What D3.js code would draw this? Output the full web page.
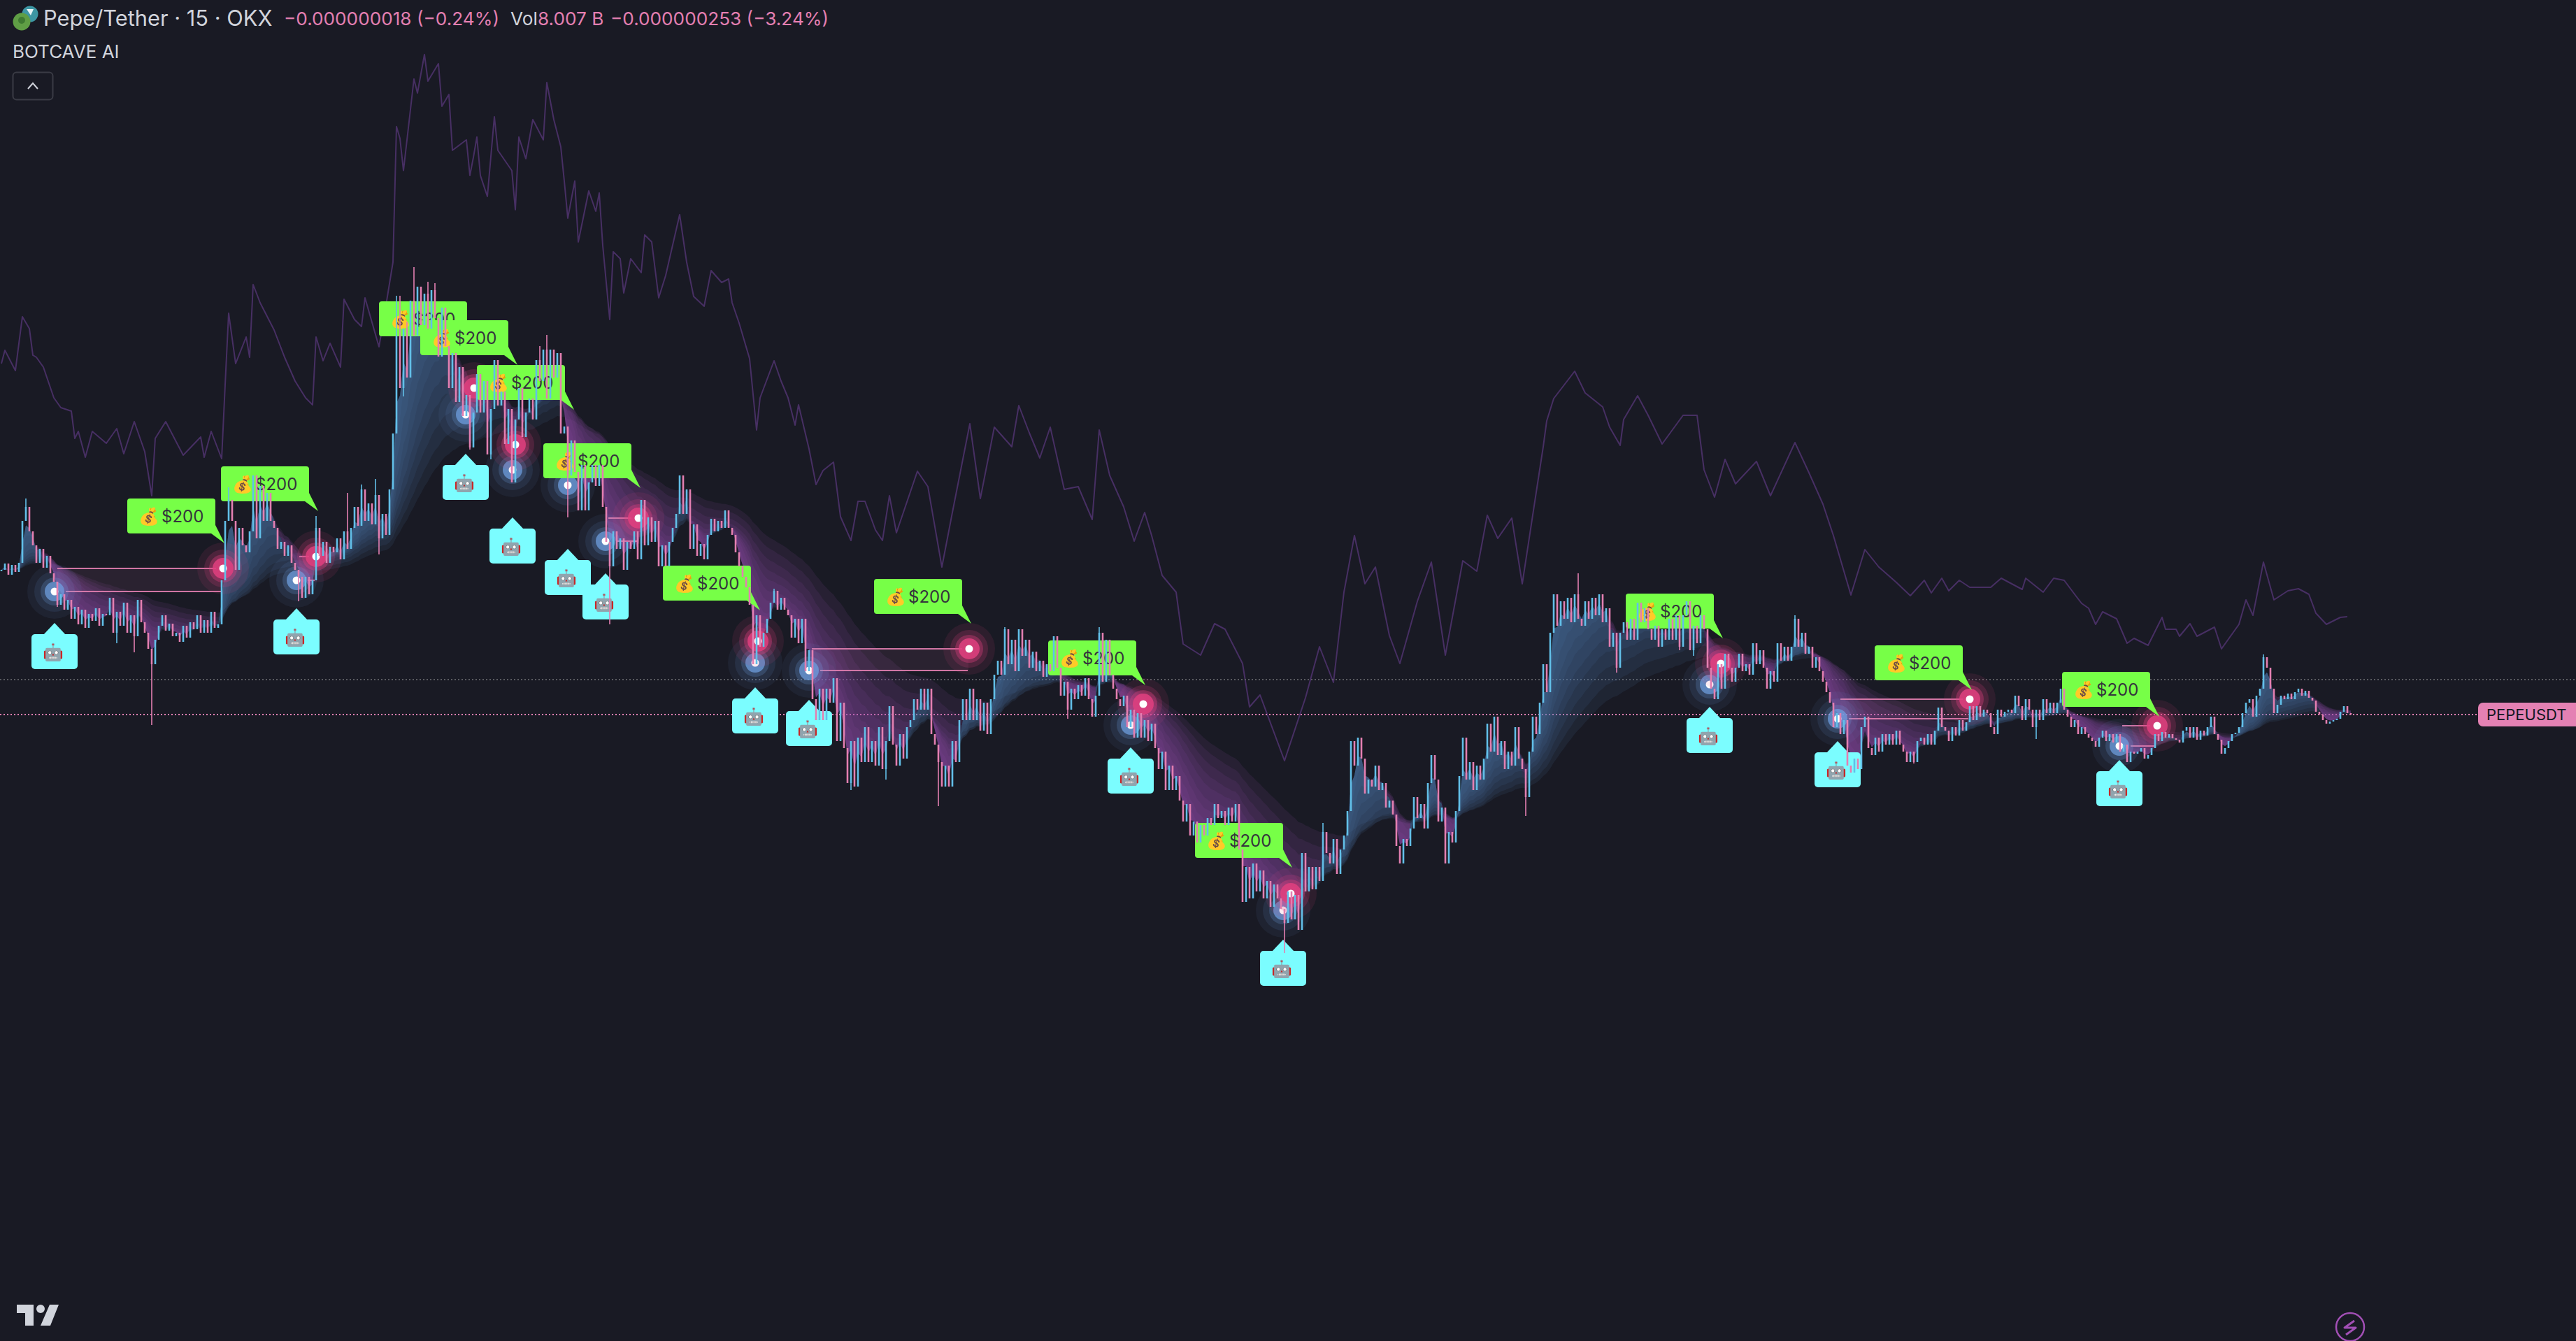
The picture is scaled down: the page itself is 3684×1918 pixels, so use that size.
<!DOCTYPE html>
<html><head><meta charset="utf-8"><title>Pepe/Tether</title>
<script src="https://cdnjs.cloudflare.com/ajax/libs/d3/7.8.5/d3.min.js"></script>
<style>html,body{margin:0;padding:0;background:#191a24;overflow:hidden}svg{display:block}text{font-family:Inter,"Noto Sans",sans-serif}</style>
</head><body><svg id="c" width="3684" height="1918"></svg>
<script>
// Prices are expressed as an index: one bar every 5 minutes of chart.
const closes=[
1185,1194,1178,1192,1182,1195,1255,1275,1240,1220,
1195,1215,1188,1205,1180,1168,1135,1150,1128,1142,
1115,1132,1107,1128,1102,1122,1112,1130,1105,1122,
1120,1145,1095,1125,1105,1138,1095,1120,1090,1142,
1110,1095,1072,1050,1085,1105,1120,1098,1108,1090,
1095,1082,1105,1088,1110,1100,1120,1095,1113,1095,
1125,1102,1107,1170,1255,1285,1255,1185,1245,1220,
1210,1240,1320,1230,1305,1255,1295,1255,1245,1215,
1225,1205,1220,1195,1185,1175,1145,1175,1150,1170,
1245,1205,1225,1195,1218,1210,1230,1200,1240,1215,
1245,1275,1248,1300,1255,1280,1250,1292,1230,1265,
1235,1300,1380,1520,1445,1530,1460,1570,1520,1590,
1535,1580,1530,1585,1545,1490,1560,1505,1445,1495,
1425,1475,1405,1435,1360,1410,1465,1410,1455,1350,
1415,1485,1420,1440,1365,1415,1310,1400,1445,1375,
1410,1430,1400,1485,1455,1500,1430,1500,1460,1495,
1380,1390,1320,1370,1325,1270,1335,1270,1310,1335,
1305,1335,1275,1225,1190,1240,1215,1230,1185,1225,
1215,1240,1200,1285,1220,1260,1225,1255,1190,1220,
1190,1225,1245,1265,1320,1265,1300,1215,1250,1205,
1222,1200,1235,1258,1240,1255,1245,1270,1245,1235,
1210,1190,1175,1160,1135,1050,1120,1075,1095,1115,
1138,1155,1128,1145,1128,1120,1088,1115,1080,1115,
1040,1070,1000,970,1015,970,1015,995,1030,940,
995,930,880,940,875,945,910,960,910,940,
905,960,900,940,990,935,905,950,915,960,
970,1000,985,1015,985,1015,950,935,910,875,
905,875,940,910,970,1000,970,1015,970,1000,
955,995,950,1000,1035,1055,1035,1100,1050,1085,
1040,1100,1062,1085,1045,1068,1040,1055,1032,1050,
1040,1090,1045,1005,1025,985,1015,1000,1020,1005,
1030,1000,975,1005,1095,1025,1085,1035,1015,1000,
990,1005,960,985,945,980,945,970,940,965,
930,900,925,870,905,870,890,855,825,850,
805,825,795,820,805,830,820,850,830,840,
820,845,825,850,785,710,760,715,765,725,
755,715,740,703,735,715,700,680,725,685,
720,670,780,725,760,728,760,740,810,780,
765,800,750,785,805,840,940,905,945,915,
865,885,875,905,870,880,845,855,835,790,
765,800,790,815,860,830,850,815,880,920,
885,825,845,765,810,795,840,890,945,885,
910,870,905,885,915,965,925,975,920,940,
900,925,905,960,915,900,860,925,975,950,
995,1050,1010,1095,1150,1105,1140,1115,1145,1110,
1150,1115,1105,1140,1115,1145,1120,1150,1110,1130,
1075,1095,1045,1095,1110,1085,1115,1085,1138,1110,
1130,1100,1085,1105,1075,1100,1085,1115,1085,1120,
1075,1120,1140,1070,1105,1080,1120,1100,1045,1015,
1000,1050,1015,1065,1045,1025,1045,1065,1040,1050,
1035,1080,1050,1070,1045,1015,1040,1025,1080,1055,
1075,1055,1075,1115,1075,1095,1065,1075,1045,1060,
1040,1025,1010,995,960,980,950,970,905,895,
915,900,960,975,930,920,945,925,950,935,
950,935,955,935,925,910,925,910,940,945,
935,950,935,955,988,960,955,940,960,948,
970,955,967,990,970,990,975,985,980,960,
950,985,975,982,985,980,1005,990,970,1000,
985,960,985,970,1000,980,995,980,995,1015,
985,975,960,970,950,960,950,945,940,932,
945,955,940,950,938,950,925,935,910,925,
922,925,930,915,920,930,950,940,953,945,
950,944,942,938,955,960,945,960,942,955,
948,960,975,950,942,922,930,940,950,952,
960,980,995,1000,975,1005,1015,1060,1045,1015,
980,992,1005,1000,1008,1000,1010,1015,1005,1012,
1002,998,982,978,970,965,968,970,972,982,990,980,978];
const wickBars=[7,16,43,85,90,113,114,116,118,122,124,154,156,162,174,268,305,367,436,451,462,513,582,647,65,221,243,253,287,314,378,115,134,140,33,38,99,103,107,108,484,480,547,571,633];
const wickTips=[1287,1132,963,1140,1262,1577,1577,1540,1618,1597,1595,1505,1521,1260,1107,847,972,637,833,1180,1038,1120,943,1064,1303,1158,870,885,1103,1103,823,1433,1357,1343,1080,1067,1295,1307,1315,1207,1062,1070,908,953,973];
const compareBars=[0,1,4,6,8,9,10,12,15,17,20,21,22,24,26,30,33,35,38,41,43,44,47,50,52,57,58,60,63,64,65,67,70,71,72,74,78,81,84,87,89,90,92,94,97,98,101,103,104,108,109,112,113,114,115,118,119,121,122,125,126,128,129,133,134,135,136,137,139,141,142,146,147,148,150,152,155,156,158,160,161,162,164,165,168,170,171,172,174,175,177,178,180,183,184,186,188,190,194,196,198,201,203,206,208,209,211,214,216,217,221,223,225,227,228,231,233,235,238,240,243,245,247,250,252,254,256,262,265,269,272,277,280,284,289,291,294,297,300,304,308,312,314,317,321,324,327,329,332,336,338,343,347,350,355,357,360,367,373,377,381,384,387,390,393,397,400,405,409,413,418,422,425,428,432,435,439,441,442,444,450,453,458,460,463,464,468,471,475,481,485,487,490,493,496,502,506,513,517,521,524,529,533,537,542,546,550,552,555,557,560,563,569,572,578,579,584,587,590,593,595,597,599,601,605,608,610,614,618,619,622,623,626,628,633,635,640,642,644,647,650,654,657,660,662,665,669,671];
const compareValues=[1480,1499,1470,1547,1530,1492,1489,1475,1431,1417,1412,1373,1383,1346,1383,1366,1387,1351,1397,1354,1291,1373,1397,1368,1349,1375,1346,1383,1344,1450,1552,1480,1518,1489,1593,1567,1528,1489,1455,1431,1421,1518,1484,1509,1475,1572,1543,1533,1574,1504,1533,1625,1819,1802,1756,1887,1867,1922,1884,1909,1848,1865,1785,1800,1749,1775,1804,1749,1719,1833,1785,1756,1700,1804,1773,1829,1800,1882,1829,1790,1741,1688,1741,1654,1727,1698,1724,1649,1543,1640,1630,1581,1630,1610,1664,1654,1574,1606,1693,1625,1576,1562,1613,1596,1601,1567,1538,1487,1385,1431,1484,1455,1431,1392,1421,1358,1307,1327,1339,1261,1227,1283,1283,1242,1227,1291,1238,1326,1304,1189,1267,1394,1287,1389,1361,1420,1381,1345,1389,1300,1304,1257,1385,1320,1275,1226,1267,1234,1177,1153,1079,1063,1108,1100,1051,989,1006,912,1002,1075,1024,1153,1234,1165,1189,1091,1051,1140,1196,1063,1198,1183,1263,1230,1259,1165,1296,1361,1398,1430,1469,1438,1418,1389,1363,1400,1434,1406,1365,1406,1406,1328,1289,1343,1308,1340,1291,1367,1324,1279,1234,1149,1214,1189,1167,1148,1170,1152,1173,1155,1170,1160,1160,1173,1157,1173,1153,1173,1170,1150,1137,1130,1107,1125,1115,1080,1087,1077,1117,1100,1100,1090,1108,1090,1103,1072,1107,1142,1120,1196,1142,1155,1158,1150,1123,1107,1117,1118];
const lastPrice=978, refLevel=1028;
const buyBars=[15.2,84.4,132.8,146.2,162,172.8,215.6,231,323,366.6,488.6,525.2,605.8];
const buyPrices=[1154,1170,1407,1328,1306,1226,1052,1041,963,698,1021,972,933];
const buyLabelPrices=[1109,1130,1351,1260,1215,1180,1017,999,931,656,989,940,913];
const sellBars=[63.4,90,135.2,147,182.2,216.4,276.8,326.6,368.8,491.8,563,616.6];
const sellPrices=[1187,1204,1445,1364,1259,1083,1072,993,722,1051,1000,962];
const sellLabelBars=[63.8,90.6,135.8,147.6,163.8,182.8,217,277.4,327.2,369.2,492.4,563.6,617.2];
const sellLabelPrices=[1223,1269,1505,1478,1414,1302,1127,1108,1020,759,1087,1013,975];
const tradeBuy=[0,1,5,7,11,12];
const tradeSell=[0,1,4,6,10,11];
const ribbonLengths=[5,8,12,16,22,28,36,46,58];

const W=3684,H=1918,BG="#191a24",BLUE="#62bfe8",PINK="#e37fb1";
const svg=d3.select("#c");
svg.append("rect").attr("width",W).attr("height",H).attr("fill",BG);
const x=d3.scaleLinear().domain([0,closes.length-1]).range([2,3362]);
const y=d3.scaleLinear().domain([82,2000]).range([1918,0]);

// comparison line
svg.append("path").datum(compareBars.map((b,i)=>[b,compareValues[i]]))
  .attr("fill","none").attr("stroke","#472f63").attr("stroke-width",2).attr("stroke-linejoin","round")
  .attr("d",d3.line().x(d=>x(d[0])).y(d=>y(d[1])));

// reference lines
[[refLevel,"#5a5b61",W],[lastPrice,PINK,3544]].forEach(([v,c,end])=>{
  svg.append("line").attr("x1",0).attr("x2",end).attr("y1",y(v)).attr("y2",y(v))
    .attr("stroke",c).attr("stroke-width",2).attr("stroke-dasharray","2 3");
});

// ribbon of moving averages
function ema(src,n){const k=2/(n+1);let out=[],p=src[0];src.forEach(v=>{p=p+k*(v-p);out.push(p)});return out}
const fast=ema(closes,3);
const ribbon=svg.append("g");
const area=d3.area().x(d=>x(d.i)).y0(d=>y(d.a)).y1(d=>y(d.b));
ribbonLengths.slice().reverse().forEach(n=>{
  const slow=ema(closes,n);
  let run=[],sign=0;
  const flush=()=>{ if(run.length>1) ribbon.append("path").datum(run)
      .attr("fill",sign>0?"rgb(83,124,178)":"rgb(151,78,180)").attr("fill-opacity",0.115).attr("d",area); };
  fast.forEach((f,i)=>{
    const s=f>=slow[i]?1:-1, pt={i,a:f,b:slow[i]};
    if(s!==sign){ flush(); run=run.length?[run[run.length-1],pt]:[pt]; sign=s; } else run.push(pt);
  });
  flush();
});

// trade boxes
const boxes=svg.append("g");
tradeBuy.forEach((b,i)=>{
  const bx=x(buyBars[b]),by=y(buyPrices[b]),sx=x(sellBars[tradeSell[i]]),sy=y(sellPrices[tradeSell[i]]);
  boxes.append("rect").attr("x",bx+4).attr("width",sx-bx-5).attr("y",Math.min(by,sy)).attr("height",Math.abs(by-sy)).attr("fill",PINK).attr("fill-opacity",0.09);
  boxes.append("line").attr("x1",bx+4).attr("x2",sx-10).attr("y1",sy).attr("y2",sy).attr("stroke",PINK).attr("stroke-width",2.2).attr("stroke-opacity",.9);
  boxes.append("line").attr("x1",bx+16).attr("x2",sx-2).attr("y1",by).attr("y2",by).attr("stroke",PINK).attr("stroke-width",2.2).attr("stroke-opacity",.9);
});

// signal dots
function dots(bars,prices,col,rings){
  const g=svg.append("g");
  bars.forEach((b,i)=>{
    const cx=x(b),cy=y(prices[i]);
    rings.forEach(([r,o])=>g.append("circle").attr("cx",cx).attr("cy",cy).attr("r",r).attr("fill",col).attr("fill-opacity",o));
    g.append("circle").attr("cx",cx).attr("cy",cy).attr("r",5.5).attr("fill","#fff");
  });
}
dots(buyBars,buyPrices,"#6f9fe0",[[39,.07],[29,.11],[20,.22],[14,.72]]);
dots(sellBars,sellPrices,"#e0407f",[[37,.10],[27,.19],[20,.36],[15,.85]]);

// sell labels
const sellG=svg.append("g");
sellLabelBars.forEach((b,i)=>{
  const tx=x(b),ty=y(sellLabelPrices[i]),l=tx-139,t=ty-64;
  sellG.append("rect").attr("x",l).attr("y",t).attr("width",126).attr("height",50).attr("rx",4).attr("fill","#77ff47");
  sellG.append("path").attr("d",`M${l+126} ${t+38}L${tx} ${ty}L${l+120} ${t+50}Z`).attr("fill","#77ff47");
  sellG.append("text").attr("x",l+31).attr("y",t+34).attr("text-anchor","middle").attr("font-size",24).text("💰");
  sellG.append("text").attr("x",l+49).attr("y",t+34).attr("font-size",24).attr("fill","#34343c").text("$200");
});
// buy labels
const buyG=svg.append("g");
buyBars.forEach((b,i)=>{
  const tx=x(b),ty=y(buyLabelPrices[i]);
  buyG.append("rect").attr("x",tx-33).attr("y",ty+16).attr("width",66).attr("height",50).attr("rx",5).attr("fill","#7bfdff");
  buyG.append("path").attr("d",`M${tx-16} ${ty+17}L${tx} ${ty}L${tx+16} ${ty+17}Z`).attr("fill","#7bfdff");
  buyG.append("text").attr("x",tx-2).attr("y",ty+50).attr("text-anchor","middle").attr("font-size",24).text("🤖");
});

// candles
const candles=closes.map((c,i)=>{
  const o=i?closes[i-1]:c; let hi=Math.max(o,c),lo=Math.min(o,c);
  const w=wickBars.indexOf(i); if(w>=0){hi=Math.max(hi,wickTips[w]);lo=Math.min(lo,wickTips[w]);}
  return {i,o,c,hi,lo,up:c>=o};
});
const cg=svg.append("g");
cg.selectAll("line").data(candles).join("line")
  .attr("x1",d=>x(d.i)).attr("x2",d=>x(d.i)).attr("y1",d=>y(d.hi)).attr("y2",d=>y(d.lo))
  .attr("stroke",d=>d.up?BLUE:PINK).attr("stroke-width",1.6);
cg.selectAll("rect").data(candles).join("rect")
  .attr("x",d=>x(d.i)-1.3).attr("width",2.6)
  .attr("y",d=>y(Math.max(d.o,d.c))).attr("height",d=>Math.max(2,Math.abs(y(d.o)-y(d.c))))
  .attr("fill",d=>d.up?BLUE:PINK);

// price tag
svg.append("path").attr("d",`M${W} 1005H3551a7 7 0 0 0 -7 7V1032a7 7 0 0 0 7 7H${W}Z`).attr("fill","#e481b3");
svg.append("text").attr("x",3556).attr("y",1030).attr("font-size",22).attr("fill","#131722").text("PEPEUSDT");

// header
svg.append("circle").attr("cx",43).attr("cy",20).attr("r",11.5).attr("fill","#3d96a3");
svg.append("path").attr("d","M38 13H48L44 22Z").attr("fill","#e8f4f6");
svg.append("circle").attr("cx",31).attr("cy",31).attr("r",12.5).attr("fill","#5f9e45");
svg.append("circle").attr("cx",31).attr("cy",29).attr("r",5).attr("fill","#3f7a32");
svg.append("text").attr("x",62).attr("y",37).attr("font-size",30.8).attr("fill","#d1d4dc").text("Pepe/Tether · 15 · OKX");
const hdr=[[406,"−0.000000018 (−0.24%)",PINK],[730,"Vol","#d1d4dc"],[769,"8.007 B",PINK],[873,"−0.000000253 (−3.24%)",PINK]];
hdr.forEach(([hx,t,c])=>svg.append("text").attr("x",hx).attr("y",36).attr("font-size",26.2).attr("fill",c).text(t));
svg.append("text").attr("x",18).attr("y",83).attr("font-size",26).attr("fill","#d1d4dc").text("BOTCAVE AI");
svg.append("rect").attr("x",18.5).attr("y",103.5).attr("width",57).attr("height",39).attr("rx",5).attr("fill","none").attr("stroke","#3a3b45").attr("stroke-width",2);
svg.append("path").attr("d","M40 127L47 119L54 127").attr("fill","none").attr("stroke","#d1d4dc").attr("stroke-width",2);

// TradingView mark
svg.append("path").attr("d","M24 1866H48V1896H36V1878H24Z").attr("fill","#d1d4dc");
svg.append("circle").attr("cx",58).attr("cy",1872).attr("r",6).attr("fill","#d1d4dc");
svg.append("path").attr("d","M71 1866H84L72 1896H58Z").attr("fill","#d1d4dc");
// bolt
svg.append("circle").attr("cx",3361).attr("cy",1898).attr("r",20).attr("fill","none").attr("stroke","#a24fb5").attr("stroke-width",2.5);
svg.append("path").attr("d","M3367 1889L3353 1899H3369L3355 1909").attr("fill","none").attr("stroke","#a24fb5").attr("stroke-width",3).attr("stroke-linejoin","round");
</script></body></html>
